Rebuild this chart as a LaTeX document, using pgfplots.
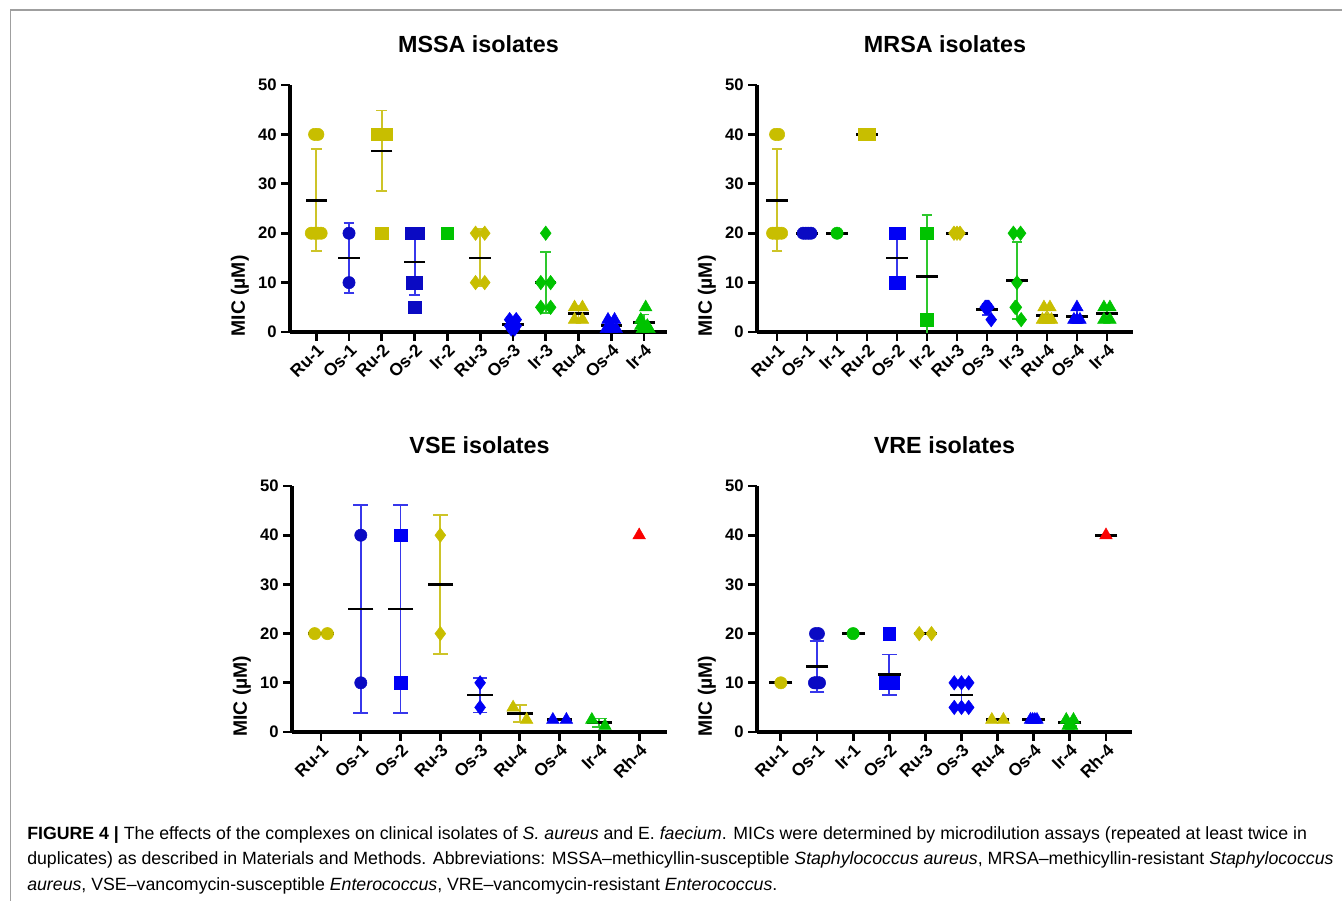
\documentclass[border=0pt]{standalone}
\usepackage{fontspec}
\setmainfont{Liberation Sans}
\usepackage{pgfplots}
\pgfplotsset{compat=1.18}

\definecolor{ru}{RGB}{200,190,0}
\definecolor{rue}{RGB}{205,196,40}
\definecolor{osd}{RGB}{10,10,195}
\definecolor{os}{RGB}{0,0,245}
\definecolor{ose}{RGB}{55,55,235}
\definecolor{ir}{RGB}{0,195,0}
\definecolor{ire}{RGB}{45,200,45}
\definecolor{rh}{RGB}{250,0,0}

\pgfplotsset{
  prism/.style={
    scale only axis,
    axis x line=bottom, axis y line=left,
    axis line style={line width=2.3pt, -},
    x axis line style={line width=2.3pt, -},
    y axis line style={line width=2.3pt, -},
    ymin=0, ymax=50, ytick={0,10,20,30,40,50},
    tick align=outside,
    major tick length=6.5pt,
    every tick/.style={black, line width=2.1pt},
    major tick style={black, line width=2.1pt},
    tick label style={font=\bfseries\fontsize{12.5}{14}\selectfont},
    /pgf/number format/assume math mode=true,
    xticklabel style={rotate=45, anchor=north east, inner sep=1pt, font=\bfseries\fontsize{13}{14}\selectfont},
    ylabel={MIC (µM)},
    ylabel style={at={(ticklabel cs:0.146)}, font=\bfseries\fontsize{14.5}{16}\selectfont},
    every axis title/.style={at={(0.5,1)}, anchor=base, yshift=24.75pt,
      font=\bfseries\fontsize{17.5}{20}\selectfont},
  },
  circ/.style={only marks, mark=*, mark size=4.6pt},
  sq/.style={only marks, mark=square*, mark size=4.7pt},
  diam/.style={only marks, mark=diamond*, mark size=5.4pt},
  tri/.style={only marks, mark=triangle*, mark size=5.4pt},
  sdbar/.style 2 args={draw=none, mark=none, error bars/.cd, y dir=both, y explicit,
    error bar style={draw=#1, line width=1.4pt},
    error mark options={draw=#1, line width=1.4pt, mark size=#2, rotate=90}},
  meanln/.style={only marks, mark=-, mark size=#1, mark options={black, line width=2pt}},
}

\begin{document}
\begin{tikzpicture}
\useasboundingbox (0,0) rectangle (1006.5pt,-675.75pt);
\draw[gray!75, line width=1.1pt] (7.5pt,-7.5pt) -- (1006.5pt,-7.5pt);
\draw[gray!75, line width=0.6pt] (7.5pt,-7.5pt) -- (7.5pt,-675.75pt);

% MSSA
\begin{axis}[prism, at={(217.5pt,-249pt)}, anchor=south west,
  width=282.75pt, height=185.25pt,
  xmin=-0.8, xmax=10.7, xtick={0,...,10},
  xticklabels={Ru-1,Os-1,Ru-2,Os-2,Ir-2,Ru-3,Os-3,Ir-3,Ru-4,Os-4,Ir-4},
  title={MSSA isolates}]
\addplot[sdbar={rue}{4pt}] coordinates {(0,26.67) +- (0,10.33) (2,36.67) +- (0,8.16) (5,15) +- (0,5.77) (8,3.75) +- (0,1.44)};
\addplot[sdbar={ose}{4pt}] coordinates {(1,15) +- (0,7.07) (3,14.17) +- (0,6.65) (6,1.46) +- (0,0.85) (9,1.35) +- (0,0.92)};
\addplot[sdbar={ire}{4pt}] coordinates {(7,10) +- (0,6.12) (10,1.875) +- (0,1.68)};
\addplot[meanln=8pt] coordinates {(0,26.67) (1,15) (2,36.67) (3,14.17) (5,15) (6,1.46) (7,10) (8,3.75) (9,1.35) (10,1.875)};
\addplot[ru, circ] coordinates {(-0.05,40) (0.05,40) (-0.15,20) (-0.05,20) (0.05,20) (0.15,20)};
\addplot[osd, circ] coordinates {(1,20) (1,10)};
\addplot[ru, sq] coordinates {(1.88,40) (1.94,40) (2,40) (2.06,40) (2.12,40) (2,20)};
\addplot[osd, sq] coordinates {(2.91,20) (3,20) (3.09,20) (2.95,10) (3.05,10) (3,5)};
\addplot[ir, sq] coordinates {(4,20)};
\addplot[ru, diam] coordinates {(4.86,20) (5.14,20) (4.86,10) (5.14,10)};
\addplot[os, diam] coordinates {(5.9,2.5) (6.1,2.5) (5.9,1.25) (6.1,1.25) (5.95,0.625) (6.05,0.625)};
\addplot[ir, diam] coordinates {(7,20) (6.85,10) (7.15,10) (6.85,5) (7.15,5)};
\addplot[ru, tri] coordinates {(7.88,5) (8.12,5) (7.88,2.5) (8.12,2.5)};
\addplot[os, tri] coordinates {(8.9,2.5) (9.1,2.5) (9,1.25) (8.85,0.625) (9,0.625) (9.15,0.625)};
\addplot[ir, tri] coordinates {(10.05,5) (9.9,2.5) (9.9,1.25) (10.1,1.25) (9.95,0.625) (10.15,0.625)};
\end{axis}

% MRSA
\begin{axis}[prism, at={(567.75pt,-249pt)}, anchor=south west,
  width=282pt, height=185.25pt,
  xmin=-0.67, xmax=11.87, xtick={0,...,11},
  xticklabels={Ru-1,Os-1,Ir-1,Ru-2,Os-2,Ir-2,Ru-3,Os-3,Ir-3,Ru-4,Os-4,Ir-4},
  title={MRSA isolates}]
\addplot[sdbar={rue}{4pt}] coordinates {(0,26.67) +- (0,10.33) (9,3.33) +- (0,1.29)};
\addplot[sdbar={ose}{4pt}] coordinates {(4,15) +- (0,5.77) (7,4.5) +- (0,1.12) (10,3.125) +- (0,1.25)};
\addplot[sdbar={ire}{4pt}] coordinates {(5,11.25) +- (0,12.37) (8,10.42) +- (0,7.81) (11,3.75) +- (0,1.44)};
\addplot[meanln=8pt] coordinates {(0,26.67) (1,20) (2,20) (3,40) (4,15) (5,11.25) (6,20) (7,4.5) (8,10.42) (9,3.33) (10,3.125) (11,3.75)};
\addplot[ru, circ] coordinates {(-0.05,40) (0.05,40) (-0.15,20) (-0.05,20) (0.05,20) (0.15,20)};
\addplot[osd, circ] coordinates {(0.87,20) (0.955,20) (1.045,20) (1.13,20)};
\addplot[ir, circ] coordinates {(2,20)};
\addplot[ru, sq] coordinates {(2.92,40) (3,40) (3.08,40)};
\addplot[os, sq] coordinates {(3.95,20) (4.05,20) (3.95,10) (4.05,10)};
\addplot[ir, sq] coordinates {(5,20) (5,2.5)};
\addplot[ru, diam] coordinates {(5.9,20) (6,20) (6.1,20)};
\addplot[os, diam] coordinates {(6.94,5) (6.98,5) (7.02,5) (7.06,5) (7.14,2.5)};
\addplot[ir, diam] coordinates {(7.88,20) (8.12,20) (8,10) (7.94,5) (7.98,5) (8.14,2.5)};
\addplot[ru, tri] coordinates {(8.9,5) (9.1,5) (8.85,2.5) (8.95,2.5) (9.05,2.5) (9.15,2.5)};
\addplot[os, tri] coordinates {(10,5) (9.9,2.5) (10,2.5) (10.1,2.5)};
\addplot[ir, tri] coordinates {(10.9,5) (11.1,5) (10.9,2.5) (11.1,2.5)};
\end{axis}

% VSE
\begin{axis}[prism, at={(219pt,-549pt)}, anchor=south west,
  width=281.25pt, height=184.5pt,
  xmin=-0.73, xmax=8.7, xtick={0,...,8},
  xticklabels={Ru-1,Os-1,Os-2,Ru-3,Os-3,Ru-4,Os-4,Ir-4,Rh-4},
  title={VSE isolates}]
\addplot[sdbar={rue}{5.5pt}] coordinates {(3,30) +- (0,14.14) (5,3.75) +- (0,1.77)};
\addplot[sdbar={ose}{5.5pt}] coordinates {(1,25) +- (0,21.21) (2,25) +- (0,21.21) (4,7.5) +- (0,3.54)};
\addplot[sdbar={ire}{5.5pt}] coordinates {(7,1.875) +- (0,0.88)};
\addplot[meanln=9.5pt] coordinates {(0,20) (1,25) (2,25) (3,30) (4,7.5) (5,3.75) (6,2.5) (7,1.875)};
\addplot[ru, circ] coordinates {(-0.16,20) (0.16,20)};
\addplot[osd, circ] coordinates {(1,40) (1,10)};
\addplot[os, sq] coordinates {(2,40) (2,10)};
\addplot[ru, diam] coordinates {(3,40) (3,20)};
\addplot[os, diam] coordinates {(4,10) (4,5)};
\addplot[ru, tri] coordinates {(4.83,5) (5.17,2.5)};
\addplot[os, tri] coordinates {(5.83,2.5) (6.17,2.5)};
\addplot[ir, tri] coordinates {(6.81,2.5) (7.14,1.25)};
\addplot[rh, tri] coordinates {(8,40)};
\end{axis}

% VRE
\begin{axis}[prism, at={(567.75pt,-549pt)}, anchor=south west,
  width=281.25pt, height=184.5pt,
  xmin=-0.66, xmax=9.72, xtick={0,...,9},
  xticklabels={Ru-1,Os-1,Ir-1,Os-2,Ru-3,Os-3,Ru-4,Os-4,Ir-4,Rh-4},
  title={VRE isolates}]
\addplot[sdbar={ose}{5.5pt}] coordinates {(1,13.33) +- (0,5.16) (3,11.67) +- (0,4.08) (5,7.5) +- (0,2.74)};
\addplot[sdbar={ire}{5.5pt}] coordinates {(8,1.875) +- (0,0.72)};
\addplot[meanln=8.6pt] coordinates {(0,10) (1,13.33) (2,20) (3,11.67) (4,20) (5,7.5) (6,2.5) (7,2.5) (8,1.875) (9,40)};
\addplot[ru, circ] coordinates {(0,10)};
\addplot[osd, circ] coordinates {(0.96,20) (1.04,20) (0.93,10) (0.975,10) (1.025,10) (1.07,10)};
\addplot[ir, circ] coordinates {(2,20)};
\addplot[os, sq] coordinates {(3,20) (2.89,10) (2.945,10) (3,10) (3.055,10) (3.11,10)};
\addplot[ru, diam] coordinates {(3.83,20) (4.17,20)};
\addplot[os, diam] coordinates {(4.8,10) (5,10) (5.2,10) (4.8,5) (5,5) (5.2,5)};
\addplot[ru, tri] coordinates {(5.84,2.5) (6.16,2.5)};
\addplot[os, tri] coordinates {(6.91,2.5) (6.97,2.5) (7.03,2.5) (7.09,2.5)};
\addplot[ir, tri] coordinates {(7.9,2.5) (8.1,2.5) (7.95,1.25) (8.05,1.25)};
\addplot[rh, tri] coordinates {(9,40)};
\end{axis}

% caption
\begin{scope}[every node/.style={anchor=base west, inner sep=0pt, font=\fontsize{13.3}{15}\selectfont}]
\node at (20.25pt,-629.25pt) {\textbf{FIGURE 4 |} The effects of the complexes on clinical isolates of \textit{S. aureus} and E. \textit{faecium}. MICs were determined by microdilution assays (repeated at least twice in};
\node at (20.25pt,-648.4pt) {duplicates) as described in Materials and Methods. Abbreviations: MSSA–methicyllin-susceptible \textit{Staphylococcus aureus}, MRSA–methicyllin-resistant \textit{Staphylococcus}};
\node at (20.25pt,-667.5pt) {\textit{aureus}, VSE–vancomycin-susceptible \textit{Enterococcus}, VRE–vancomycin-resistant \textit{Enterococcus}.};
\end{scope}
\end{tikzpicture}
\end{document}
